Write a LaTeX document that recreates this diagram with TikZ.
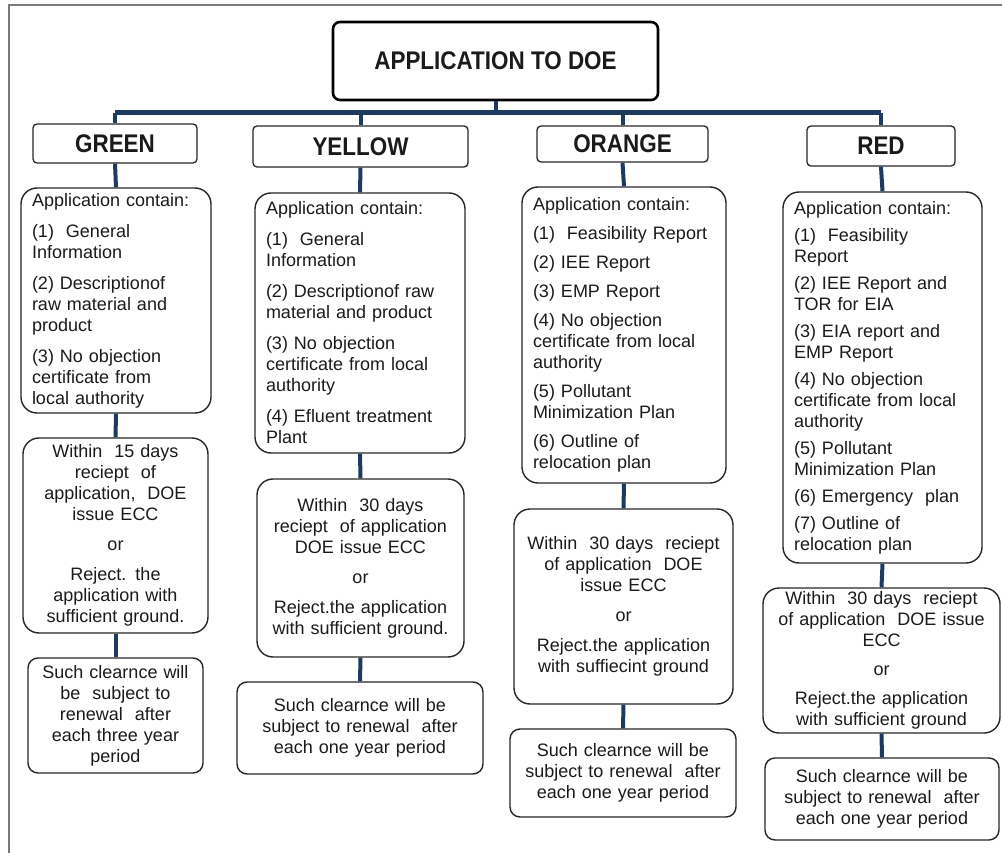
\documentclass[tikz,border=0pt]{standalone}
\usepackage{fontspec}
\setmainfont{Liberation Sans}
\newfontfamily\headfamily{Liberation Sans}[FakeStretch=0.88]
\definecolor{navy}{HTML}{1F3A5F}
\definecolor{ink}{HTML}{1A1A1A}
\definecolor{frame}{HTML}{7A7A7A}
\newcommand{\bodyfont}{\fontsize{18}{21}\selectfont}
\newcommand{\redfont}{\fontsize{18}{21}\selectfont}
\newcommand{\headfont}{\headfamily\fontsize{25.5}{28}\selectfont\bfseries}
\tikzset{
  titlebox/.style={draw=black, line width=2.6pt, rounded corners=7pt, font=\headfont,
    minimum width=325pt, minimum height=78pt, inner sep=0pt, text=ink},
  catbox/.style={draw=black!85, line width=1.3pt, rounded corners=4pt, font=\headfont,
    inner sep=0pt, text=ink},
  appbox/.style={draw=black!85, line width=1.4pt, rounded corners=16pt, align=left,
    inner xsep=11pt, inner ysep=3pt, font=\bodyfont, text=ink},
  decbox/.style={draw=black!85, line width=1.4pt, rounded corners=16pt, align=center,
    inner xsep=6pt, inner ysep=3pt, font=\bodyfont, text=ink},
  renbox/.style={draw=black!85, line width=1.4pt, rounded corners=10pt, align=center,
    inner xsep=6pt, inner ysep=3pt, font=\bodyfont, text=ink},
  conn/.style={draw=navy, line width=4pt},
  bus/.style={draw=navy, line width=5pt},
}
\begin{document}
\begin{tikzpicture}[x=1pt,y=-1pt]
\useasboundingbox (0,0) rectangle (1002,853);
% outer frame (top and left edges)
\draw[frame, line width=1.2pt] (9,853) -- (9,5) -- (1002,5);

% title
\node[titlebox] (title) at (495.5,61) {APPLICATION TO DOE};
\coordinate (busy) at (0,113);

% categories
\node[catbox, minimum width=164pt, minimum height=39pt] (gcat) at (115,143.5) {GREEN};
\node[catbox, minimum width=215pt, minimum height=41pt] (ycat) at (360.5,146.5) {YELLOW};
\node[catbox, minimum width=171pt, minimum height=36pt] (ocat) at (622.5,144) {ORANGE};
\node[catbox, minimum width=148pt, minimum height=40pt] (rcat) at (881,146) {RED};

% GREEN column
\node[appbox, text width=168pt, minimum height=225pt] (gapp) at (116,300.5)
  {Application contain:\\[10pt]
   (1)~~General\\Information\\[10pt]
   (2) Descriptionof\\raw material and\\product\\[10pt]
   (3) No objection\\certificate from\\local authority};
\node[decbox, text width=173pt, minimum height=195pt] (gdec) at (115.5,535.5)
  {Within~~15 days\\reciept~~of\\application,~~DOE\\issue ECC\\[9pt]
   or\\[9pt]
   Reject. the\\application with\\sufficient ground.};
\node[renbox, text width=163pt, minimum height=115pt] (gren) at (115.5,715.5)
  {Such clearnce will\\be~~subject to\\renewal~~after\\each three year\\period};

% YELLOW column
\node[appbox, text width=188pt, minimum height=260pt] (yapp) at (360,323)
  {Application contain:\\[10pt]
   (1)~~General\\Information\\[10pt]
   (2) Descriptionof raw\\material and product\\[10pt]
   (3) No objection\\certificate from local\\authority\\[10pt]
   (4) Efluent treatment\\Plant};
\node[decbox, text width=195pt, minimum height=178pt] (ydec) at (360.5,568)
  {Within~~30 days\\reciept~~of application\\DOE issue ECC\\[9pt]
   or\\[9pt]
   Reject.the application\\with sufficient ground.};
\node[renbox, text width=234pt, minimum height=92pt] (yren) at (360,728)
  {Such clearnce will be\\subject to renewal~~after\\each one year period};

% ORANGE column
\node[appbox, text width=182pt, minimum height=296pt] (oapp) at (624,335)
  {Application contain:\\[8pt]
   (1)~~Feasibility Report\\[8pt]
   (2) IEE Report\\[8pt]
   (3) EMP Report\\[8pt]
   (4) No objection\\certificate from local\\authority\\[8pt]
   (5) Pollutant\\Minimization Plan\\[8pt]
   (6) Outline of\\relocation plan};
\node[decbox, text width=207pt, minimum height=195pt] (odec) at (623.5,606.5)
  {Within~~30 days~~reciept\\of application~~DOE\\issue ECC\\[9pt]
   or\\[9pt]
   Reject.the application\\with suffiecint ground};
\node[renbox, text width=214pt, minimum height=88pt] (oren) at (623,773)
  {Such clearnce will be\\subject to renewal~~after\\each one year period};

% RED column
\node[appbox, font=\redfont, text width=177pt, minimum height=371pt, inner ysep=0pt] (rapp) at (882.5,377.5)
  {Application contain:\\[6pt]
   (1)~~Feasibility\\Report\\[6pt]
   (2) IEE Report and\\TOR for EIA\\[6pt]
   (3) EIA report and\\EMP Report\\[6pt]
   (4) No objection\\certificate from local\\authority\\[6pt]
   (5) Pollutant\\Minimization Plan\\[6pt]
   (6) Emergency~~plan\\[6pt]
   (7) Outline of\\relocation plan};
\node[decbox, text width=225pt, minimum height=145pt] (rdec) at (881.5,660.5)
  {Within~~30 days~~reciept\\of application~~DOE issue\\ECC\\[8pt]
   or\\[8pt]
   Reject.the application\\with sufficient ground};
\node[renbox, text width=222pt, minimum height=82pt] (rren) at (882,799)
  {Such clearnce will be\\subject to renewal~~after\\each one year period};

% connectors
\draw[conn] (title.south) -- (title.south |- busy);
\draw[bus] (gcat.north |- busy) -- (rcat.north |- busy);
\foreach \c in {gcat,ycat,ocat,rcat}
  \draw[conn] (\c.north |- busy) -- (\c.north);
\draw[conn] (gcat.south) -- (gapp.north);
\draw[conn] (gapp.south) -- (gdec.north);
\draw[conn] (gdec.south) -- (gren.north);
\draw[conn] (ycat.south) -- (yapp.north);
\draw[conn] (yapp.south) -- (ydec.north);
\draw[conn] (ydec.south) -- (yren.north);
\draw[conn] (ocat.south) -- (oapp.north);
\draw[conn] (oapp.south) -- (odec.north);
\draw[conn] (odec.south) -- (oren.north);
\draw[conn] (rcat.south) -- (rapp.north);
\draw[conn] (rapp.south) -- (rdec.north);
\draw[conn] (rdec.south) -- (rren.north);
\end{tikzpicture}
\end{document}
